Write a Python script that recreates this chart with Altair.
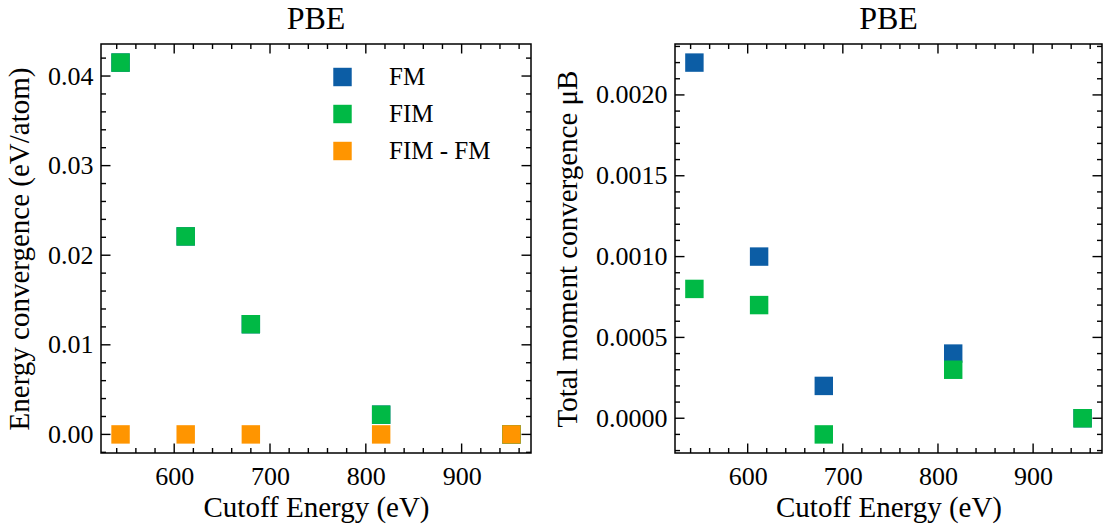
import altair as alt
import pandas as pd

# ---- data ----
cutoff = [544, 612, 680, 816, 952]
fm_energy = [0.0415, 0.0221, 0.0123, 0.0022, 0.0]
fim_energy = [0.0415, 0.0221, 0.0123, 0.0022, 0.0]
diff_energy = [0.0, 0.0, 0.0, 0.0, 0.0]
fm_moment = [0.0022, 0.0010, 0.0002, 0.0004, 0.0]
fim_moment = [0.0008, 0.0007, -0.0001, 0.0003, 0.0]

x_major = [600, 700, 800, 900]
x_minor = [540, 560, 580, 620, 640, 660, 680, 720, 740, 760, 780,
           820, 840, 860, 880, 920, 940, 960]
e_major = [0.0, 0.01, 0.02, 0.03, 0.04]
e_minor = [-0.002, 0.002, 0.004, 0.006, 0.008, 0.012, 0.014, 0.016, 0.018,
           0.022, 0.024, 0.026, 0.028, 0.032, 0.034, 0.036, 0.038, 0.042]
m_major = [0.0, 0.0005, 0.0010, 0.0015, 0.0020]
m_minor = [-0.0002, -0.0001, 0.0001, 0.0002, 0.0003, 0.0004, 0.0006, 0.0007,
           0.0008, 0.0009, 0.0011, 0.0012, 0.0013, 0.0014, 0.0016, 0.0017,
           0.0018, 0.0019, 0.0021, 0.0022, 0.0023]

series_e = ["FM", "FIM", "FIM - FM"]
series_m = ["FM", "FIM"]
colors_e = ["#0C5DA5", "#00B945", "#FF9500"]
colors_m = ["#0C5DA5", "#00B945"]

FONT = "Liberation Serif"
X_DOMAIN = [523.6, 972.4]
X_TITLE = "Cutoff Energy (eV)"


def build_df(series, values):
    rows = []
    i = 0
    for s, vals in zip(series, values):
        for x, v in zip(cutoff, vals):
            rows.append({"cutoff": x, "value": v, "series": s, "idx": i})
            i += 1
    return pd.DataFrame(rows)


def panel(df, series, colors, ytitle, ydomain, ymajor, yminor, yfmt, W, H, legx, legy):
    xs = alt.Scale(domain=X_DOMAIN, nice=False, zero=False)
    ys = alt.Scale(domain=ydomain, nice=False, zero=False)
    common = dict(ticks=False, domain=False, grid=False,
                  labelFont=FONT, labelFontSize=26, labelColor="black",
                  titleFont=FONT, titleFontSize=29, titleFontWeight="normal",
                  titleColor="black")
    xaxis = alt.Axis(values=x_major, format="d", labelPadding=10, titlePadding=4,
                     title=X_TITLE, **common)
    yaxis = alt.Axis(values=ymajor, format=yfmt, labelPadding=8, titlePadding=13,
                     title=ytitle, **common)
    pts = alt.Chart(df).mark_square(size=340, opacity=1).encode(
        x=alt.X("cutoff:Q", scale=xs, axis=xaxis),
        y=alt.Y("value:Q", scale=ys, axis=yaxis),
        color=alt.Color("series:N", sort=series,
                        scale=alt.Scale(domain=series, range=colors),
                        legend=alt.Legend(title=None, orient="none", legendX=legx, legendY=legy,
                                          symbolType="square", symbolSize=340,
                                          symbolStrokeWidth=0, symbolOpacity=1,
                                          labelFont=FONT, labelFontSize=25,
                                          labelColor="black", labelOffset=34,
                                          rowPadding=11, padding=0)),
        order=alt.Order("idx:Q"),
    )

    layers = [pts]
    for vals, L in ((x_major, 9.5), (x_minor, 5)):
        d = pd.DataFrame({"t": vals})
        for top in (False, True):
            layers.append(
                alt.Chart(d).mark_rule(color="black", strokeWidth=1.4).encode(
                    x=alt.X("t:Q", scale=xs, axis=xaxis),
                    y=alt.value(0 if top else H),
                    y2=alt.value(L if top else H - L),
                )
            )
    for vals, L in ((ymajor, 9.5), (yminor, 5)):
        d = pd.DataFrame({"t": vals})
        for right in (False, True):
            layers.append(
                alt.Chart(d).mark_rule(color="black", strokeWidth=1.4).encode(
                    y=alt.Y("t:Q", scale=ys, axis=yaxis),
                    x=alt.value(W if right else 0),
                    x2=alt.value(W - L if right else L),
                )
            )
    return alt.layer(*layers).properties(
        width=W, height=H,
        title=alt.Title("PBE", font=FONT, fontSize=32, fontWeight="normal",
                        color="black", offset=7, anchor="middle"),
    )


df_e = build_df(series_e, [fm_energy, fim_energy, diff_energy])
df_m = build_df(series_m, [fm_moment, fim_moment])

left = panel(df_e, series_e, colors_e, "Energy convergence (eV/atom)",
             [-0.002075, 0.043575], e_major, e_minor, ".2f", 430, 409, 229, 20.5)
right = panel(df_m, series_m, colors_m, "Total moment convergence μB",
              [-0.000215, 0.002315], m_major, m_minor, ".4f", 427, 409, 295, 20.5)

chart = alt.hconcat(left, right, spacing=19).properties(
    padding={"left": 4, "top": 2, "right": 4, "bottom": 4},
    background="white",
).configure_view(
    stroke="black", strokeWidth=1.5
)

chart.save("out.html", embed_options={"renderer": "svg", "actions": False})
